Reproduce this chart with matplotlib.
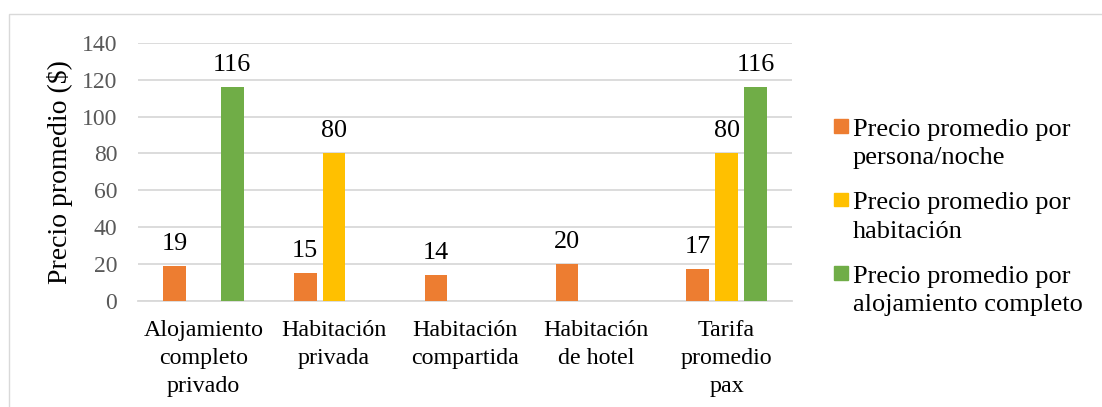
import numpy as np
import matplotlib
matplotlib.use("Agg")
import matplotlib.pyplot as plt
from matplotlib.patches import Rectangle

categories = ["Alojamiento\ncompleto\nprivado", "Habitación\nprivada", "Habitación\ncompartida",
              "Habitación\nde hotel", "Tarifa\npromedio\npax"]
series_names = ["Precio promedio por\npersona/noche", "Precio promedio por\nhabitación",
                "Precio promedio por\nalojamiento completo"]
persona_noche = [19, 15, 14, 20, 17]
habitacion = [np.nan, 80, np.nan, np.nan, 80]
alojamiento = [116, np.nan, np.nan, np.nan, 116]
series_values = [persona_noche, habitacion, alojamiento]
colors = ["#ED7D31", "#FFC000", "#70AD47"]
y_ticks = [0, 20, 40, 60, 80, 100, 120, 140]
y_label = "Precio promedio ($)"

W, H = 1102, 407
plt.rcParams['font.family'] = ['Liberation Serif', 'DejaVu Serif']
fig = plt.figure(figsize=(W / 100, H / 100), dpi=100)
ax = fig.add_axes([138 / W, 1 - 300.6 / H, (792 - 138) / W, (300.6 - 43) / H])

x = np.arange(len(categories))
spacing = 0.221
width = 0.172
for k, (vals, col) in enumerate(zip(series_values, colors)):
    pos = x + (k - 1) * spacing
    ax.bar(pos, vals, width=width, color=col, zorder=3)
    for px, v in zip(pos, vals):
        if not np.isnan(v):
            ax.annotate(f"{v:g}", (px, v), xytext=(0, 11.5), textcoords="offset points",
                        ha="center", va="baseline", fontsize=18.8, color="black")

ax.set_xlim(-0.5, len(categories) - 0.5)
ax.set_ylim(0, 140)
ax.set_yticks(y_ticks)
ax.set_yticklabels([str(t) for t in y_ticks], fontsize=17, color="#595959")
ax.set_xticks(x)
ax.set_xticklabels(categories, fontsize=17.3, color="black", linespacing=1.45)
ax.tick_params(axis="y", length=0, pad=15)
ax.tick_params(axis="x", length=0, pad=14)
ax.grid(axis="y", color="#D9D9D9", linewidth=1.3, zorder=0)
for s in ["top", "right", "left"]:
    ax.spines[s].set_visible(False)
ax.spines["bottom"].set_color("#D9D9D9")
ax.spines["bottom"].set_linewidth(1.3)
ax.spines["bottom"].set_zorder(1)

ax.set_ylabel(y_label, fontsize=20, color="black")
ax.yaxis.set_label_coords((73 - 138) / 654, 0.5)

# legend (Excel style, marker aligned with first line)
base0 = 134
step = 73.5
line_px = 30
for k, (name, col) in enumerate(zip(series_names, colors)):
    b = base0 + k * step
    fig.patches.append(Rectangle((834 / W, 1 - (b - 1.5) / H), 13.5 / W, 13.5 / H,
                                 transform=fig.transFigure, color=col, figure=fig))
    extra = name.count("\n")
    fig.text(853 / W, 1 - (b + extra * line_px) / H, name, fontsize=19, ha="left",
             va="baseline", linespacing=1.37, color="black")

# chart border
fig.patches.append(Rectangle((9 / W, -0.2), 1.5, 1 - 14 / H + 0.2, transform=fig.transFigure,
                             fill=False, edgecolor="#D9D9D9", linewidth=1.0, figure=fig))

fig.savefig("out.png", dpi=100)
